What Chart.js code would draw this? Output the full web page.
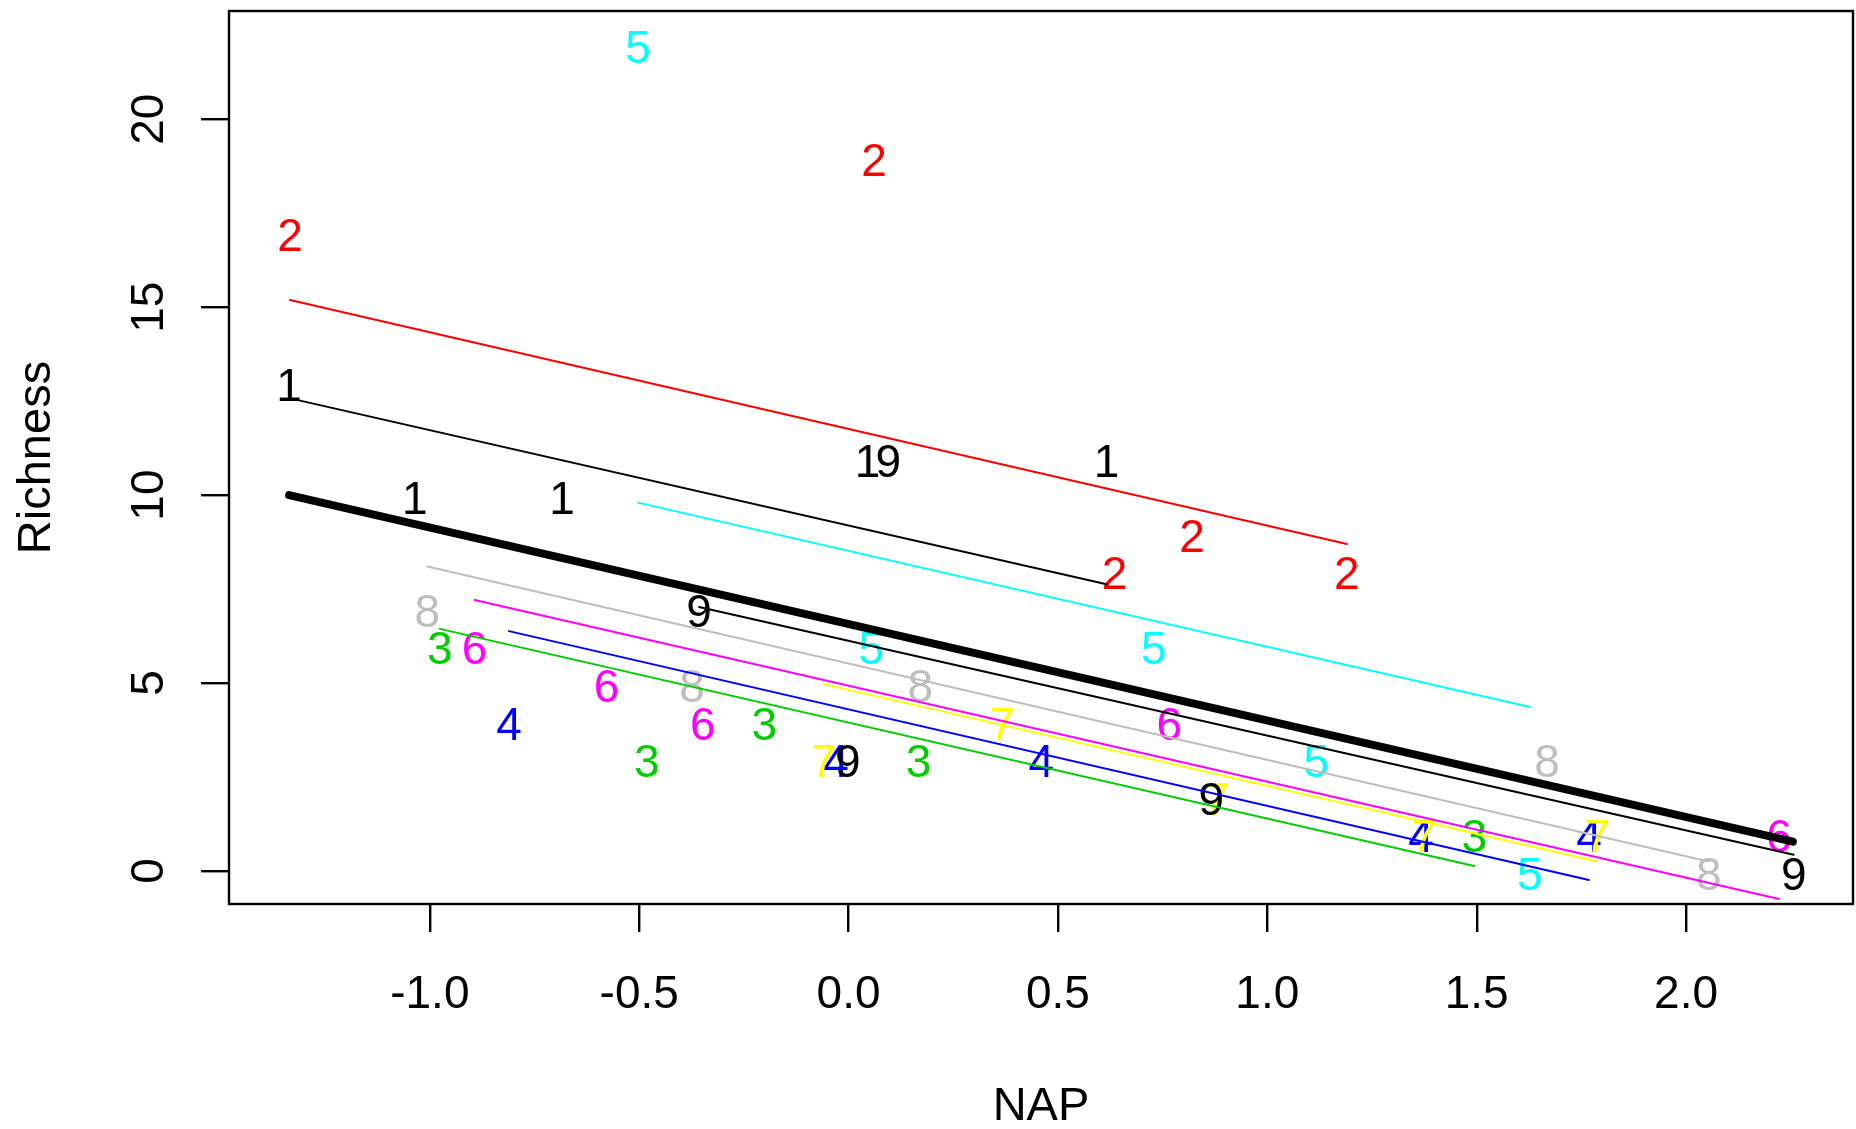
<!DOCTYPE html>
<html>
<head>
<meta charset="utf-8">
<script src="https://cdn.jsdelivr.net/npm/chart.js@4.4.1/dist/chart.umd.min.js"></script>
<style>
  html, body { margin: 0; padding: 0; background: #fff; }
  canvas { display: block; }
</style>
</head>
<body>
<canvas id="richnessChart" width="1856" height="1129"></canvas>
<script>
// beach labels and the samples
const beaches = ['1', '2', '3', '4', '5', '6', '7', '8', '9'];
const napByBeach = [
    [-1.336, -1.036, -0.684, 0.045, 0.616],
    [-1.334, 0.061, 0.635, 0.820, 1.190],
    [-0.976, -0.482, -0.201, 0.167, 1.494],
    [-0.811, -0.030, 0.460, 1.367, 1.768],
    [-0.503, 0.054, 0.729, 1.117, 1.627],
    [-0.893, -0.578, -0.348, 0.766, 2.222],
    [-0.060, 0.367, 0.879, 1.374, 1.788],
    [-1.006, -0.374, 0.171, 1.668, 2.054],
    [-0.357, -0.002, 0.095, 0.866, 2.257]
];
const richnessByBeach = [
    [13, 10, 10, 11, 11],
    [17, 19, 8, 9, 8],
    [6, 3, 4, 3, 1],
    [4, 3, 3, 1, 1],
    [22, 6, 6, 3, 0],
    [6, 5, 4, 4, 1],
    [3, 4, 2, 1, 1],
    [7, 5, 5, 3, 0],
    [7, 3, 11, 2, 0]
];

// fitted lines per beach: start / end
const fitNap = [
    [-1.336, 0.616],
    [-1.334, 1.190],
    [-0.976, 1.494],
    [-0.811, 1.768],
    [-0.503, 1.627],
    [-0.893, 2.222],
    [-0.060, 1.788],
    [-1.006, 2.054],
    [-0.357, 2.257]
];
const fitRichness = [
    [12.58, 7.63],
    [15.19, 8.70],
    [6.44, 0.13],
    [6.38, -0.24],
    [9.80, 4.36],
    [7.21, -0.745],
    [4.97, 0.25],
    [8.10, 0.25],
    [7.02, 0.43]
];
const popNap = [-1.336, 2.255];
const popRichness = [10.0, 0.78];

const xTicks = [-1.0, -0.5, 0.0, 0.5, 1.0, 1.5, 2.0];
const yTicks = [0, 5, 10, 15, 20];

// R palette (col = 1..8, 9 wraps to black)
const palette = ['#000000', '#FF0000', '#00CD00', '#0000FF', '#00FFFF', '#FF00FF', '#FFFF00', '#BEBEBE', '#000000'];
const FONT = '"Liberation Sans", Arial, Helvetica, sans-serif';

const lineSets = [];
// thick population line goes first so it is painted last
lineSets.push({
    data: popNap.map((x, i) => ({ x: x, y: popRichness[i] })),
    showLine: true,
    borderColor: '#000000',
    borderWidth: 8,
    borderCapStyle: 'round',
    pointRadius: 0
});
for (let b = beaches.length - 1; b >= 0; b--) {
    lineSets.push({
        data: fitNap[b].map((x, i) => ({ x: x, y: fitRichness[b][i] })),
        showLine: true,
        borderColor: palette[b],
        borderWidth: 2,
        borderCapStyle: 'round',
        pointRadius: 0
    });
}
const pointSets = beaches.map((lab, b) => ({
    data: napByBeach[b].map((x, i) => ({ x: x, y: richnessByBeach[b][i] })),
    showLine: false,
    pointRadius: 0,
    pointHoverRadius: 0,
    isLabels: true,
    labelText: lab,
    labelColor: palette[b]
}));

const rPlotPlugin = {
    id: 'rPlot',
    beforeDatasetsDraw(chart) {
        const ctx = chart.ctx;
        ctx.save();
        ctx.font = '46px ' + FONT;
        ctx.textAlign = 'center';
        ctx.textBaseline = 'alphabetic';
        chart.data.datasets.forEach((ds, i) => {
            if (!ds.isLabels) return;
            const meta = chart.getDatasetMeta(i);
            ctx.fillStyle = ds.labelColor;
            meta.data.forEach(pt => {
                ctx.fillText(ds.labelText, pt.x, pt.y + 19);
            });
        });
        ctx.restore();
    },
    afterDraw(chart) {
        const ctx = chart.ctx;
        const area = chart.chartArea;
        const xs = chart.scales.x;
        const ys = chart.scales.y;
        ctx.save();
        // box
        ctx.strokeStyle = '#000';
        ctx.lineWidth = 2.4;
        ctx.strokeRect(area.left, area.top, area.right - area.left, area.bottom - area.top);

        ctx.fillStyle = '#000';
        ctx.font = '46px ' + FONT;
        ctx.textAlign = 'center';
        ctx.textBaseline = 'alphabetic';
        xs.ticks.forEach(t => {
            ctx.fillText(t.value.toFixed(1), xs.getPixelForValue(t.value), 1008);
        });
        ys.ticks.forEach(t => {
            ctx.save();
            ctx.translate(163, ys.getPixelForValue(t.value));
            ctx.rotate(-Math.PI / 2);
            ctx.fillText(String(t.value), 0, 0);
            ctx.restore();
        });

        ctx.font = '47px ' + FONT;
        ctx.fillText('NAP', (area.left + area.right) / 2, 1120);
        ctx.save();
        ctx.translate(50, (area.top + area.bottom) / 2);
        ctx.rotate(-Math.PI / 2);
        ctx.fillText('Richness', 0, 0);
        ctx.restore();
        ctx.restore();
    }
};

const ctx = document.getElementById('richnessChart').getContext('2d');
const chart = new Chart(ctx, {
    type: 'scatter',
    data: { datasets: lineSets.concat(pointSets) },
    options: {
        responsive: false,
        devicePixelRatio: 1,
        animation: false,
        events: [],
        layout: { padding: { top: 11, right: 3, left: 0, bottom: 0 } },
        plugins: {
            legend: { display: false },
            tooltip: { enabled: false }
        },
        scales: {
            x: {
                type: 'linear',
                min: -1.4796,
                max: 2.3986,
                afterBuildTicks: (scale) => { scale.ticks = xTicks.map(v => ({ value: v })); },
                afterFit: (scale) => { scale.height = 225; },
                ticks: { display: false, autoSkip: false },
                border: { display: false },
                grid: {
                    drawOnChartArea: false,
                    drawTicks: true,
                    tickLength: 28,
                    color: '#000',
                    lineWidth: 2.4
                }
            },
            y: {
                type: 'linear',
                min: -0.88,
                max: 22.88,
                afterBuildTicks: (scale) => { scale.ticks = yTicks.map(v => ({ value: v })); },
                afterFit: (scale) => { scale.width = 229; },
                ticks: { display: false, autoSkip: false },
                border: { display: false },
                grid: {
                    drawOnChartArea: false,
                    drawTicks: true,
                    tickLength: 28,
                    color: '#000',
                    lineWidth: 2.4
                }
            }
        }
    },
    plugins: [rPlotPlugin]
});
</script>
</body>
</html>
